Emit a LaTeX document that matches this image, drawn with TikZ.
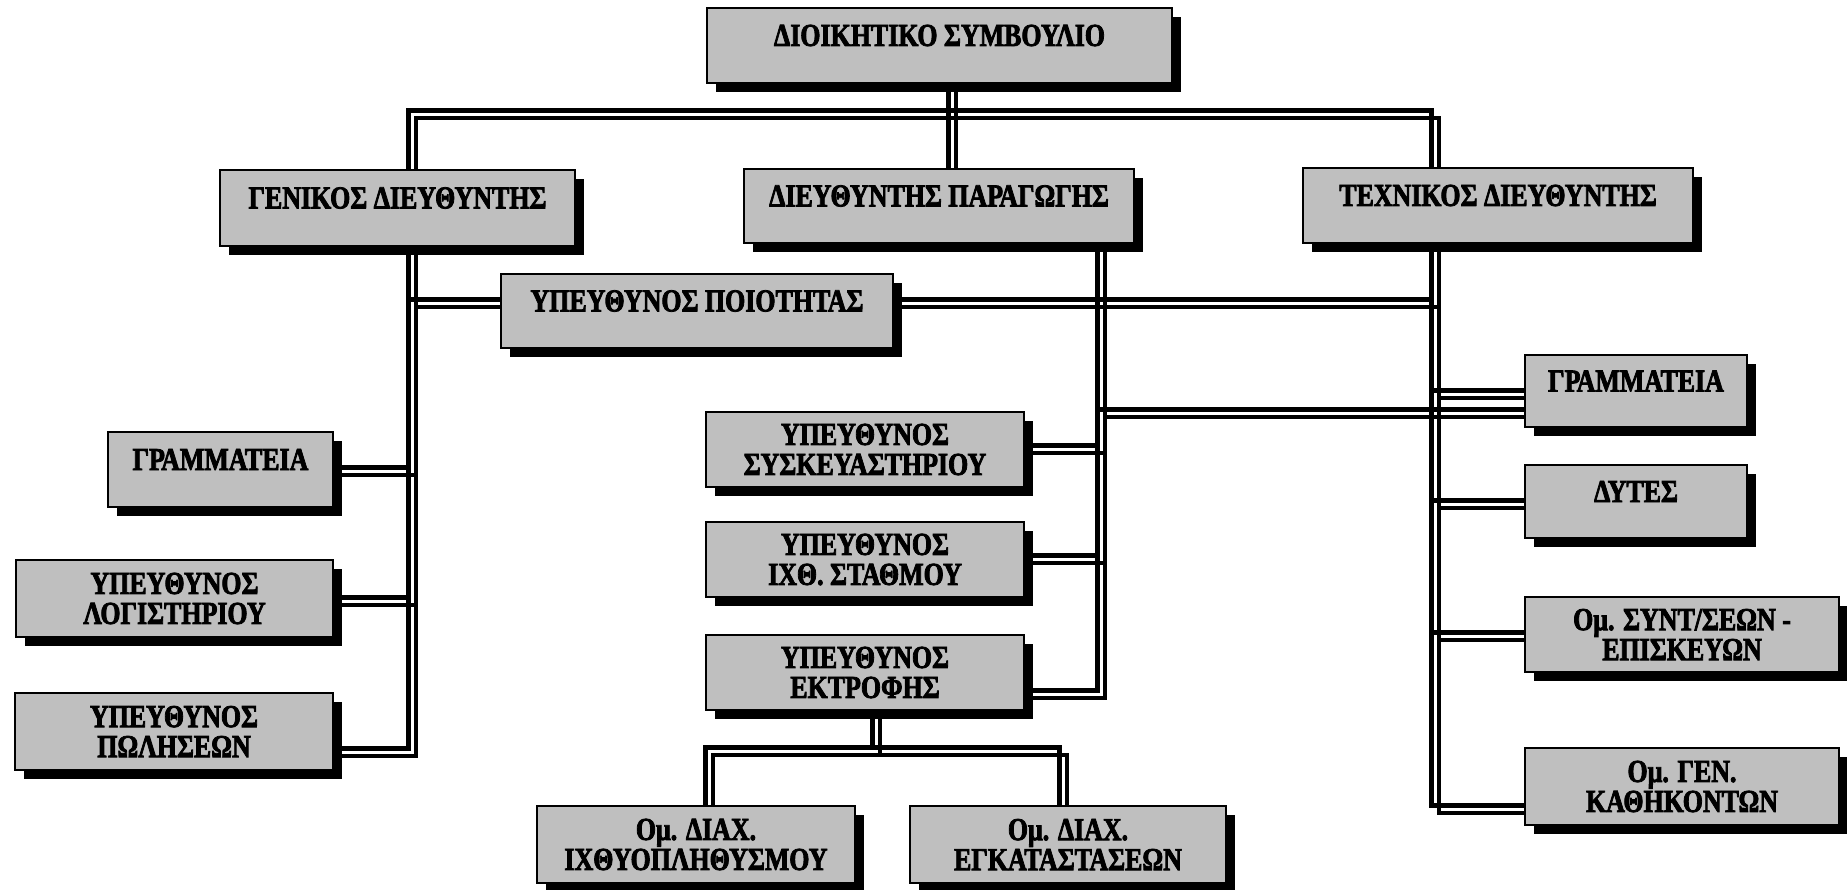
\documentclass[tikz,border=0pt]{standalone}
\usepackage{fontspec}
\newfontfamily\boxfont{Liberation Serif}[FakeStretch=0.81,FakeBold=2.5]
\usetikzlibrary{shadows,backgrounds}
\newcommand\liftup[1]{\raisebox{5pt}[\height][\depth]{#1}}
\tikzset{
  box/.style={draw=black, line width=0.8pt, fill=black!25, inner sep=0pt, align=center,
    font=\boxfont\bfseries\fontsize{16}{15}\selectfont,
    general shadow={fill=black, shadow xshift=4.5pt, shadow yshift=-4.5pt}},
  twoline/.style={text depth=4pt},
  conn/.style={line width=2.5pt, line cap=rect, line join=miter,
    postaction={draw, line width=1.9pt, transform canvas={shift={(4pt,-4pt)}}}},
}
\begin{document}
\begin{tikzpicture}[x=0.5pt,y=-0.5pt]
\useasboundingbox (0,0) rectangle (1847,889);
% boxes
\node[box, minimum width=232.5pt, minimum height=37.5pt] (dioik) at (939.5,45.5) {\liftup{ΔΙΟΙΚΗΤΙΚΟ ΣΥΜΒΟΥΛΙΟ}};
\node[box, minimum width=177.5pt, minimum height=38pt] (genik) at (397.5,208) {\liftup{ΓΕΝΙΚΟΣ ΔΙΕΥΘΥΝΤΗΣ}};
\node[box, minimum width=195pt, minimum height=37pt] (parag) at (939,206) {\liftup{ΔΙΕΥΘΥΝΤΗΣ ΠΑΡΑΓΩΓΗΣ}};
\node[box, minimum width=195pt, minimum height=37.5pt] (techn) at (1498,205.5) {\liftup{ΤΕΧΝΙΚΟΣ ΔΙΕΥΘΥΝΤΗΣ}};
\node[box, minimum width=196pt, minimum height=37pt] (poiot) at (697,311) {\liftup{ΥΠΕΥΘΥΝΟΣ ΠΟΙΟΤΗΤΑΣ}};
\node[box, minimum width=112.5pt, minimum height=37.5pt] (Lgram) at (220.5,469.5) {\liftup{ΓΡΑΜΜΑΤΕΙΑ}};
\node[box, minimum width=158.5pt, minimum height=38.5pt] (Llog) at (174.5,598.5) {ΥΠΕΥΘΥΝΟΣ\\ΛΟΓΙΣΤΗΡΙΟΥ};
\node[box, minimum width=159pt, minimum height=38.5pt] (Lpol) at (174,731.5) {ΥΠΕΥΘΥΝΟΣ\\ΠΩΛΗΣΕΩΝ};
\node[box, minimum width=159pt, minimum height=37.5pt] (Msys) at (865,449.5) {ΥΠΕΥΘΥΝΟΣ\\ΣΥΣΚΕΥΑΣΤΗΡΙΟΥ};
\node[box, minimum width=159pt, minimum height=37.5pt] (Mixth) at (865,559.5) {ΥΠΕΥΘΥΝΟΣ\\ΙΧΘ. ΣΤΑΘΜΟΥ};
\node[box, minimum width=159pt, minimum height=37.5pt] (Mektr) at (865,672.5) {ΥΠΕΥΘΥΝΟΣ\\ΕΚΤΡΟΦΗΣ};
\node[box, minimum width=159pt, minimum height=38.5pt] (B1) at (696,844.5) {Ομ. ΔΙΑΧ.\\ΙΧΘΥΟΠΛΗΘΥΣΜΟΥ};
\node[box, minimum width=158pt, minimum height=38.5pt] (B2) at (1068,844.5) {Ομ. ΔΙΑΧ.\\ΕΓΚΑΤΑΣΤΑΣΕΩΝ};
\node[box, minimum width=111pt, minimum height=36pt] (Rgram) at (1636,391) {\liftup{ΓΡΑΜΜΑΤΕΙΑ}};
\node[box, minimum width=111pt, minimum height=36.5pt] (Rdyt) at (1636,501.5) {\liftup{ΔΥΤΕΣ}};
\node[box, minimum width=157pt, minimum height=37.5pt] (Rsynt) at (1682,634.5) {Ομ. ΣΥΝΤ/ΣΕΩΝ -\\ΕΠΙΣΚΕΥΩΝ};
\node[box, minimum width=157pt, minimum height=38.5pt] (Rgen) at (1682,786.5) {Ομ. ΓΕΝ.\\ΚΑΘΗΚΟΝΤΩΝ};
% junction points
\coordinate (tl) at (408,110); \coordinate (tr) at (1431,110); \coordinate (xm) at (948,0);
\coordinate (gb) at (408,748); \coordinate (g1) at (408,467); \coordinate (g2) at (408,597);
\coordinate (q1) at (408,299); \coordinate (q2) at (1431,299);
\coordinate (pb) at (1097,690); \coordinate (p1) at (1097,445); \coordinate (p2) at (1097,555); \coordinate (p3) at (1097,409);
\coordinate (tb) at (1431,805); \coordinate (t1) at (1431,390); \coordinate (t2) at (1431,500); \coordinate (t3) at (1431,632);
\coordinate (e0) at (872,747); \coordinate (el) at (705,747); \coordinate (er) at (1059,747);
\begin{pgfonlayer}{background}
\fill[white] (0,0) rectangle (1847,889);
\draw[conn] (genik.north -| tl) -- (tl) -- (tr) -- (techn.north -| tr);
\draw[conn] (dioik.south -| xm) -- (parag.north -| xm);
\draw[conn] (genik.south -| gb) -- (gb) -- (gb -| Lpol.east);
\draw[conn] (g1) -- (g1 -| Lgram.east);
\draw[conn] (g2) -- (g2 -| Llog.east);
\draw[conn] (q1) -- (q1 -| poiot.west);
\draw[conn] (poiot.east |- q2) -- (q2);
\draw[conn] (parag.south -| pb) -- (pb) -- (pb -| Mektr.east);
\draw[conn] (p1) -- (p1 -| Msys.east);
\draw[conn] (p2) -- (p2 -| Mixth.east);
\draw[conn] (p3) -- (p3 -| Rgram.west);
\draw[conn] (techn.south -| tb) -- (tb) -- (tb -| Rgen.west);
\draw[conn] (t1) -- (t1 -| Rgram.west);
\draw[conn] (t2) -- (t2 -| Rdyt.west);
\draw[conn] (t3) -- (t3 -| Rsynt.west);
\draw[conn] (Mektr.south -| e0) -- (e0);
\draw[conn] (B1.north -| el) -- (el) -- (er) -- (B2.north -| er);
\end{pgfonlayer}
\end{tikzpicture}
\end{document}
